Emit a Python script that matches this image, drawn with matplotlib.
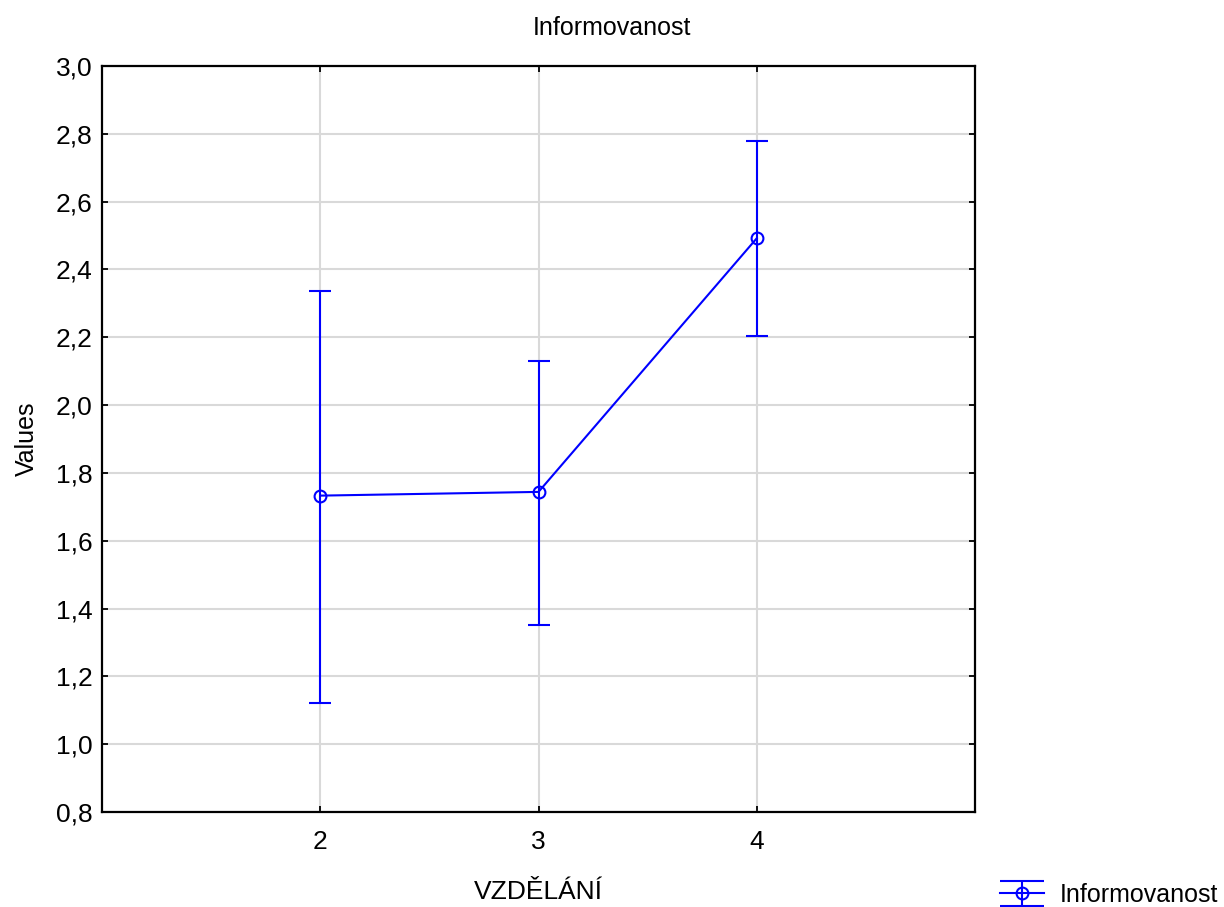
import numpy as np
import matplotlib
matplotlib.use("Agg")
import matplotlib.pyplot as plt
from matplotlib.ticker import FuncFormatter

# data
vzdelani = [2, 3, 4]
prumer = [1.733, 1.744, 2.492]
dolni = [1.120, 1.352, 2.204]
horni = [2.335, 2.131, 2.779]

y_ticks = [0.8, 1.0, 1.2, 1.4, 1.6, 1.8, 2.0, 2.2, 2.4, 2.6, 2.8, 3.0]

plt.rcParams['font.family'] = ['Liberation Sans', 'DejaVu Sans']

fig = plt.figure(figsize=(12.24, 9.07), dpi=100)
ax = fig.add_axes([102 / 1224, 1 - 812 / 907, (975 - 102) / 1224, (812 - 66) / 907])

prumer = np.array(prumer)
chyby = [prumer - np.array(dolni), np.array(horni) - prumer]

styl = dict(color='#0000ff', lw=1.5, marker='o', ms=8.5, mfc='none', mec='#0000ff',
            mew=1.5, capthick=1.5, elinewidth=1.5)
ax.errorbar(vzdelani, prumer, yerr=chyby, capsize=8, zorder=3, **styl)

# legend proxy: caps as wide as the handle, like the original symbol
proxy = ax.errorbar([np.nan], [np.nan], yerr=[[0], [0]], capsize=16,
                    label='Informovanost', **styl)

ax.set_xlim(1, 5)
ax.set_ylim(0.8, 3.0)
ax.set_xticks(vzdelani)
ax.set_yticks(y_ticks)
ax.yaxis.set_major_formatter(FuncFormatter(lambda v, p: f"{v:.1f}".replace('.', ',')))

ax.grid(True, color='#d9d9d9', lw=1.5, zorder=0)
ax.set_axisbelow(True)
for s in ax.spines.values():
    s.set_linewidth(1.6)
ax.tick_params(direction='in', length=4, width=1.3, top=True, right=True,
               labelsize=19, pad=7)
ax.tick_params(axis='x', pad=13)

fig.text(0.5, 1 - 35 / 907, 'Informovanost', fontsize=18, ha='center', va='baseline')
ax.set_xlabel('VZDĚLÁNÍ', fontsize=19, labelpad=19)
ax.set_ylabel('Values', fontsize=18, labelpad=12)

fig.legend(handles=[proxy], loc='center left', bbox_to_anchor=(1000 / 1224, 1 - 895 / 907),
           frameon=False, fontsize=18, borderpad=0, borderaxespad=0,
           handlelength=1.76, handletextpad=0.64)

fig.savefig('out.png', dpi=100)
